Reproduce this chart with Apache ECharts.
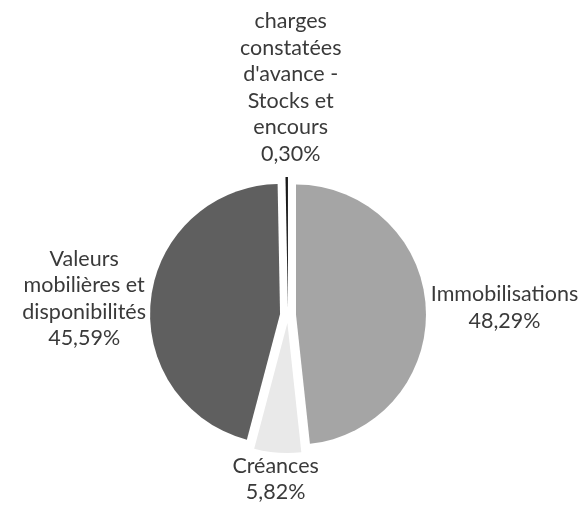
<!DOCTYPE html>
<html>
<head>
<meta charset="utf-8">
<script src="https://cdn.jsdelivr.net/npm/echarts@6/dist/echarts.min.js"></script>
<style>
  html, body { margin: 0; padding: 0; background: #fff; }
  #chart { width: 582px; height: 505px; }
</style>
</head>
<body>
<div id="chart"></div>
<script>
// parts of the total, in %
const categories = [
  'Immobilisations',
  'Créances',
  'Valeurs\nmobilières et\ndisponibilités',
  "charges\nconstatées\nd'avance -\nStocks et\nencours"
];
const values = [48.29, 5.82, 45.59, 0.30];

const palette = ['#a5a5a5', '#e9e9e9', '#5f5f5f', '#1a1a1a'];

const chart = echarts.init(document.getElementById('chart'));

const data = categories.map((name, i) => ({ name: name, value: values[i], selected: true }));

chart.setOption({
  animation: false,
  color: palette,
  series: [{
    type: 'pie',
    center: [288, 315],
    radius: 130,
    startAngle: 90,
    clockwise: true,
    selectedMode: 'multiple',
    selectedOffset: 8,
    avoidLabelOverlap: false,
    data: data,
    label: {
      show: true,
      position: 'outside',
      color: '#3a3a3a',
      fontFamily: 'Lato',
      fontSize: 21.5,
      lineHeight: 26.5,
      formatter: p => p.name + '\n' + p.value.toFixed(2).replace('.', ',') + '%'
    },
    labelLine: { show: false, length: 0, length2: 0 },
    emphasis: { disabled: true },
    labelLayout: function (params) {
      const r = params.labelRect;
      let ax = r.x + r.width / 2;
      if (params.align === 'right') ax = r.x + r.width;
      if (params.align === 'left') ax = r.x;
      const i = params.dataIndex;
      // top and bottom labels sit centred above / below the slice
      if (i === 3) return { align: 'center', dx: 9, dy: -r.height / 2 - 10 };
      if (i === 1) return { align: 'center', dx: 3, dy: r.height / 2 };
      return { align: 'center', dx: r.x + r.width / 2 - ax };
    }
  }]
});
</script>
</body>
</html>
